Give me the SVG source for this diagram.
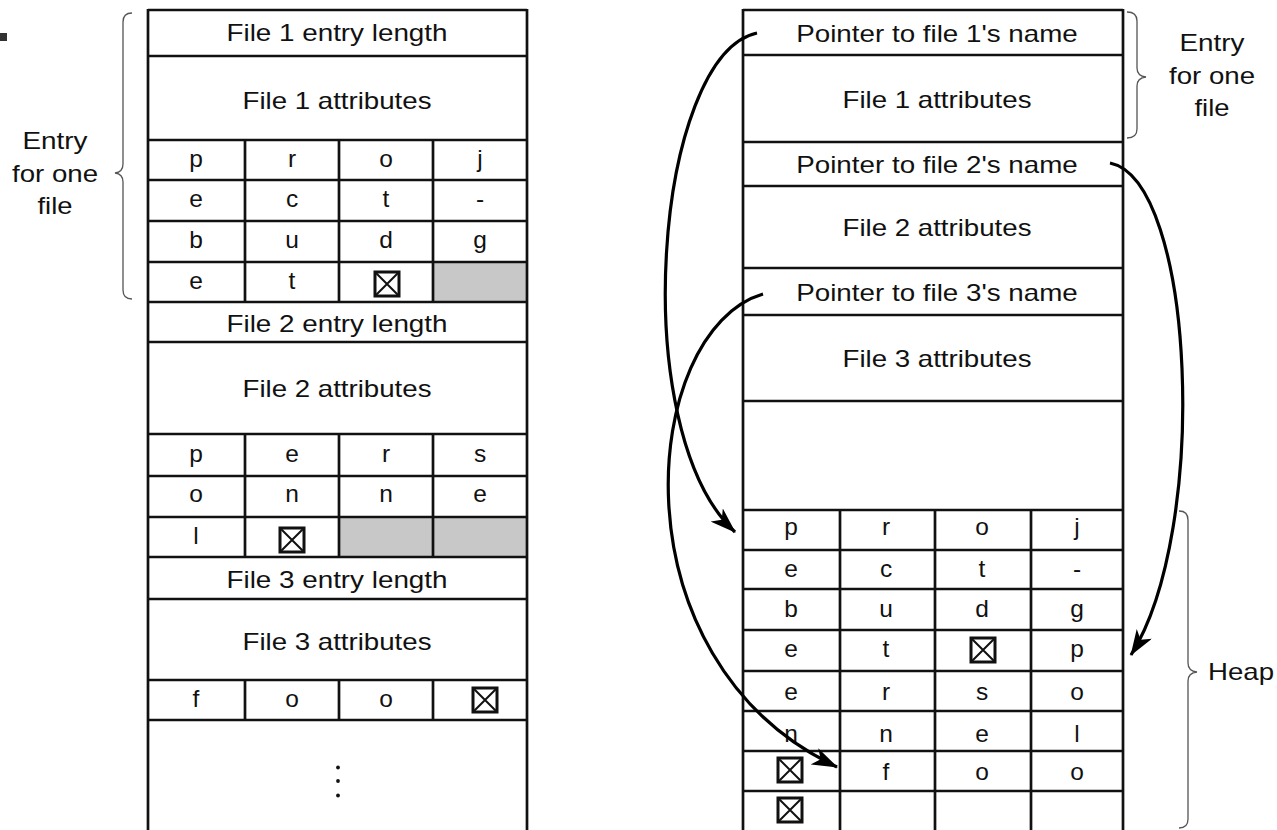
<svg xmlns="http://www.w3.org/2000/svg" xmlns:xlink="http://www.w3.org/1999/xlink" width="1277" height="830" viewBox="0 0 1277 830">
<style>
.ln{stroke:#111;stroke-width:2.7;fill:none}
.t{font-family:"Liberation Sans",Arial,Helvetica,sans-serif;font-size:24px;fill:#111;text-anchor:middle}
.c{font-family:"Liberation Sans",Arial,Helvetica,sans-serif;font-size:24.5px;fill:#111;text-anchor:middle}
.br{fill:none;stroke:#555;stroke-width:1.3}
.arr{fill:none;stroke:#000;stroke-width:3.2;marker-end:url(#ah)}
.g{fill:#c8c8c8}
</style>
<defs>
<marker id="ah" markerUnits="userSpaceOnUse" markerWidth="28" markerHeight="18" refX="25" refY="9" orient="auto">
<path d="M0,0 L26,9 L0,18 L7,9 Z" fill="#000"/>
</marker>
<g id="xbox">
<rect x="-12" y="-12" width="24" height="24" fill="#fff" stroke="#111" stroke-width="3"/>
<path d="M-11,-11 L11,11 M11,-11 L-11,11" stroke="#111" stroke-width="2"/>
</g>
</defs>
<rect width="1277" height="830" fill="#fff"/>
<rect x="0" y="33" width="7" height="8" fill="#333"/>

<g id="left-table">
<rect class="g" x="433" y="262" width="94" height="40"/>
<rect class="g" x="339" y="517" width="188" height="40"/>
<path class="ln" d="M148,9 V831 M527,9 V831
M148,10 H527 M148,56 H527 M148,140 H527 M148,180 H527 M148,221 H527 M148,262 H527 M148,302 H527
M148,342 H527 M148,434 H527 M148,476 H527 M148,517 H527 M148,557 H527 M148,599 H527 M148,680 H527 M148,720 H527
M245,140 V302 M339,140 V302 M433,140 V302
M245,434 V557 M339,434 V557 M433,434 V557
M245,680 V720 M339,680 V720 M433,680 V720"/>
</g>

<g id="left-entry-1">
<text class="t" x="337" y="41" textLength="221" lengthAdjust="spacingAndGlyphs">File 1 entry length</text>
<text class="t" x="337" y="109" textLength="189" lengthAdjust="spacingAndGlyphs">File 1 attributes</text>
<text class="c" x="196" y="166.5">p</text><text class="c" x="292" y="166.5">r</text><text class="c" x="386" y="166.5">o</text><text class="c" x="480" y="166.5">j</text>
<text class="c" x="196" y="207">e</text><text class="c" x="292" y="207">c</text><text class="c" x="386" y="207">t</text><text class="c" x="480" y="207">-</text>
<text class="c" x="196" y="248">b</text><text class="c" x="292" y="248">u</text><text class="c" x="386" y="248">d</text><text class="c" x="480" y="248">g</text>
<text class="c" x="196" y="288.5">e</text><text class="c" x="292" y="288.5">t</text>
<use xlink:href="#xbox" x="387" y="284"/>
</g>

<g id="left-entry-2">
<text class="t" x="337" y="331.5" textLength="221" lengthAdjust="spacingAndGlyphs">File 2 entry length</text>
<text class="t" x="337" y="397" textLength="189" lengthAdjust="spacingAndGlyphs">File 2 attributes</text>
<text class="c" x="196" y="461.5">p</text><text class="c" x="292" y="461.5">e</text><text class="c" x="386" y="461.5">r</text><text class="c" x="480" y="461.5">s</text>
<text class="c" x="196" y="502">o</text><text class="c" x="292" y="502">n</text><text class="c" x="386" y="502">n</text><text class="c" x="480" y="502">e</text>
<text class="c" x="196" y="543.5">l</text>
<use xlink:href="#xbox" x="292" y="540"/>
</g>

<g id="left-entry-3">
<text class="t" x="337" y="588" textLength="221" lengthAdjust="spacingAndGlyphs">File 3 entry length</text>
<text class="t" x="337" y="650" textLength="189" lengthAdjust="spacingAndGlyphs">File 3 attributes</text>
<text class="c" x="196" y="706.5">f</text><text class="c" x="292" y="706.5">o</text><text class="c" x="386" y="706.5">o</text>
<use xlink:href="#xbox" x="485" y="700"/>
</g>

<g id="left-free">
<circle cx="338" cy="767.5" r="1.9" fill="#111"/>
<circle cx="338" cy="781" r="1.9" fill="#111"/>
<circle cx="338" cy="795.5" r="1.9" fill="#111"/>
</g>

<g id="left-label">
<path class="br" d="M132,13 Q123,13 123,22 L123,164 Q123,172 115,173 Q123,174 123,182 L123,290 Q123,299 132,299"/>
<text class="t" x="55" y="149" textLength="65" lengthAdjust="spacingAndGlyphs">Entry</text>
<text class="t" x="55" y="182" textLength="86" lengthAdjust="spacingAndGlyphs">for one</text>
<text class="t" x="55" y="214" textLength="35" lengthAdjust="spacingAndGlyphs">file</text>
</g>

<g id="right-table">
<path class="ln" d="M743,9 V831 M1123,9 V831
M743,10 H1123 M743,55 H1123 M743,142 H1123 M743,186 H1123 M743,268 H1123 M743,315 H1123 M743,401 H1123 M743,510 H1123"/>
</g>

<g id="right-entry-1">
<text class="t" x="937" y="42" textLength="281.5" lengthAdjust="spacingAndGlyphs">Pointer to file 1's name</text>
<text class="t" x="937" y="108" textLength="189" lengthAdjust="spacingAndGlyphs">File 1 attributes</text>
</g>
<g id="right-entry-2">
<text class="t" x="937" y="173" textLength="281.5" lengthAdjust="spacingAndGlyphs">Pointer to file 2's name</text>
<text class="t" x="937" y="236" textLength="189" lengthAdjust="spacingAndGlyphs">File 2 attributes</text>
</g>
<g id="right-entry-3">
<text class="t" x="937" y="301" textLength="281.5" lengthAdjust="spacingAndGlyphs">Pointer to file 3's name</text>
<text class="t" x="937" y="367" textLength="189" lengthAdjust="spacingAndGlyphs">File 3 attributes</text>
</g>

<g id="right-label">
<path class="br" d="M1127,12 Q1137,12 1137,21 L1137,68 Q1137,76 1146,77 Q1137,78 1137,86 L1137,129 Q1137,138 1127,138"/>
<text class="t" x="1212" y="51" textLength="65" lengthAdjust="spacingAndGlyphs">Entry</text>
<text class="t" x="1212" y="83.5" textLength="86" lengthAdjust="spacingAndGlyphs">for one</text>
<text class="t" x="1212" y="116" textLength="35" lengthAdjust="spacingAndGlyphs">file</text>
</g>

<g id="heap">
<path class="ln" d="M743,550 H1123 M743,589 H1123 M743,630 H1123 M743,671 H1123 M743,711 H1123 M743,751 H1123 M743,791 H1123
M840,510 V831 M935,510 V831 M1031,510 V831"/>
<text class="c" x="791" y="535">p</text><text class="c" x="886" y="535">r</text><text class="c" x="982" y="535">o</text><text class="c" x="1077" y="535">j</text>
<text class="c" x="791" y="576.5">e</text><text class="c" x="886" y="576.5">c</text><text class="c" x="982" y="576.5">t</text><text class="c" x="1077" y="576.5">-</text>
<text class="c" x="791" y="617">b</text><text class="c" x="886" y="617">u</text><text class="c" x="982" y="617">d</text><text class="c" x="1077" y="617">g</text>
<text class="c" x="791" y="657">e</text><text class="c" x="886" y="657">t</text><use xlink:href="#xbox" x="983" y="650"/><text class="c" x="1077" y="657">p</text>
<text class="c" x="791" y="700">e</text><text class="c" x="886" y="700">r</text><text class="c" x="982" y="700">s</text><text class="c" x="1077" y="700">o</text>
<text class="c" x="791" y="741.5">n</text><text class="c" x="886" y="741.5">n</text><text class="c" x="982" y="741.5">e</text><text class="c" x="1077" y="741.5">l</text>
<use xlink:href="#xbox" x="790" y="770"/><text class="c" x="886" y="780">f</text><text class="c" x="982" y="780">o</text><text class="c" x="1077" y="780">o</text>
<use xlink:href="#xbox" x="790" y="810"/>
</g>

<g id="heap-label">
<path class="br" d="M1179,511 Q1188,511 1188,520 L1188,663 Q1188,671 1197,672 Q1188,673 1188,681 L1188,819 Q1188,828 1179,828"/>
<text class="t" x="1241" y="680" textLength="66" lengthAdjust="spacingAndGlyphs">Heap</text>
</g>

<g id="connectors">
<path class="arr" d="M757,33 C655,55 625,430 735,532"/>
<path class="arr" d="M1110,163 C1195,180 1210,530 1131,655"/>
<path class="arr" d="M763,294 C640,330 610,660 837,767"/>
</g>
</svg>
